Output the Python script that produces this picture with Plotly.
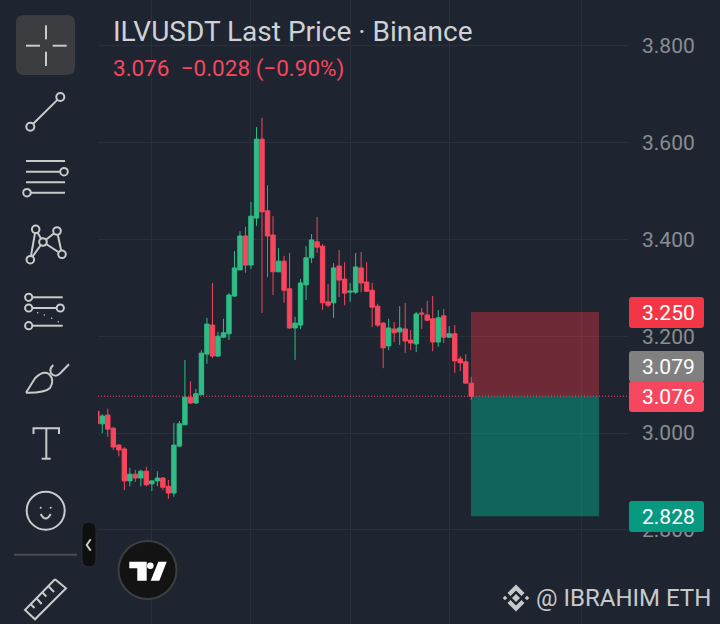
import plotly.graph_objects as go

W = 720
H = 624

# candles
opens = [3.045, 3.019, 3.037, 3.010, 2.975, 2.967, 2.901, 2.915, 2.907, 2.921,
         2.895, 2.901, 2.907, 2.890, 2.876, 2.973, 3.017, 3.074, 3.062, 3.079,
         3.163, 3.223, 3.159, 3.198, 3.205, 3.283, 3.337, 3.407, 3.347, 3.444,
         3.607, 3.459, 3.409, 3.333, 3.355, 3.298, 3.217, 3.223, 3.306, 3.362,
         3.395, 3.386, 3.271, 3.269, 3.345, 3.318, 3.291, 3.291, 3.341, 3.312,
         3.295, 3.262, 3.227, 3.180, 3.215, 3.209, 3.215, 3.192, 3.184, 3.248,
         3.244, 3.236, 3.188, 3.242, 3.198, 3.205, 3.153, 3.147, 3.103]
highs = [3.047, 3.039, 3.050, 3.012, 2.977, 2.971, 2.928, 2.924, 2.924, 2.930,
         2.903, 2.921, 2.909, 2.903, 3.021, 3.025, 3.151, 3.107, 3.091, 3.171,
         3.238, 3.310, 3.209, 3.236, 3.289, 3.376, 3.417, 3.426, 3.477, 3.632,
         3.651, 3.512, 3.448, 3.382, 3.366, 3.372, 3.240, 3.318, 3.386, 3.411,
         3.446, 3.390, 3.308, 3.351, 3.378, 3.353, 3.310, 3.372, 3.374, 3.353,
         3.310, 3.267, 3.229, 3.236, 3.229, 3.262, 3.269, 3.213, 3.250, 3.258,
         3.273, 3.283, 3.254, 3.256, 3.221, 3.223, 3.159, 3.163, 3.116]
lows = [3.017, 3.000, 2.992, 2.965, 2.952, 2.882, 2.890, 2.899, 2.890, 2.890,
        2.880, 2.890, 2.882, 2.864, 2.868, 2.971, 3.017, 3.060, 3.060, 3.079,
        3.143, 3.155, 3.157, 3.196, 3.192, 3.281, 3.337, 3.331, 3.339, 3.428,
        3.248, 3.322, 3.285, 3.333, 3.269, 3.215, 3.151, 3.215, 3.275, 3.351,
        3.372, 3.254, 3.260, 3.238, 3.281, 3.264, 3.271, 3.287, 3.291, 3.291,
        3.219, 3.219, 3.134, 3.171, 3.188, 3.182, 3.165, 3.171, 3.167, 3.215,
        3.231, 3.169, 3.178, 3.186, 3.196, 3.124, 3.128, 3.103, 3.068]
closes = [3.019, 3.035, 3.008, 2.971, 2.965, 2.901, 2.915, 2.907, 2.921, 2.893,
          2.901, 2.907, 2.888, 2.876, 2.975, 3.019, 3.074, 3.062, 3.081, 3.165,
          3.225, 3.159, 3.200, 3.207, 3.285, 3.341, 3.407, 3.347, 3.448, 3.607,
          3.457, 3.407, 3.333, 3.355, 3.295, 3.217, 3.227, 3.310, 3.362, 3.399,
          3.384, 3.269, 3.264, 3.341, 3.316, 3.289, 3.293, 3.343, 3.310, 3.293,
          3.260, 3.223, 3.176, 3.217, 3.207, 3.217, 3.190, 3.186, 3.246, 3.246,
          3.233, 3.188, 3.238, 3.198, 3.205, 3.149, 3.145, 3.103, 3.076]
bars = list(range(len(opens)))

price_ticks = [3.8, 3.6, 3.4, 3.2, 3.0, 2.8]
price_labels = ["3.800", "3.600", "3.400", "3.200", "3.000", "2.800"]
time_grid = [10, 28, 46, 64, 88]

stop_price = 3.25
last_price = 3.076
target_price = 2.828
tool_start = 67.95
tool_end = 91.2

BG = "#1e2530"
GRID = "#2a303b"
UP = "#2ebd85"
DOWN = "#f6465d"
ICON = "#c9cacc"


def fx(x):
    return x / W


def fy(y):
    return 1 - y / H


def path(*pts, close=False):
    s = "M" + " L".join(f"{fx(x):.5f},{fy(y):.5f}" for x, y in pts)
    return s + (" Z" if close else "")


def round_rect(x0, y0, x1, y1, r):
    return (f"M{fx(x0 + r):.5f},{fy(y0):.5f} L{fx(x1 - r):.5f},{fy(y0):.5f} "
            f"Q{fx(x1):.5f},{fy(y0):.5f} {fx(x1):.5f},{fy(y0 + r):.5f} "
            f"L{fx(x1):.5f},{fy(y1 - r):.5f} Q{fx(x1):.5f},{fy(y1):.5f} {fx(x1 - r):.5f},{fy(y1):.5f} "
            f"L{fx(x0 + r):.5f},{fy(y1):.5f} Q{fx(x0):.5f},{fy(y1):.5f} {fx(x0):.5f},{fy(y1 - r):.5f} "
            f"L{fx(x0):.5f},{fy(y0 + r):.5f} Q{fx(x0):.5f},{fy(y0):.5f} {fx(x0 + r):.5f},{fy(y0):.5f} Z")


shapes = []


def add_path(d, color=ICON, width=2, fill=None):
    shapes.append(dict(type="path", path=d, xref="paper", yref="paper",
                       line=dict(color=color, width=width),
                       fillcolor=fill if fill else "rgba(0,0,0,0)", layer="above"))


def add_circle(x, y, r, color=ICON, width=2, fill=None):
    shapes.append(dict(type="circle", xref="paper", yref="paper",
                       x0=fx(x - r), x1=fx(x + r), y0=fy(y + r), y1=fy(y - r),
                       line=dict(color=color, width=width),
                       fillcolor=fill if fill else "rgba(0,0,0,0)", layer="above"))


fig = go.Figure(go.Candlestick(
    x=bars, open=opens, high=highs, low=lows, close=closes,
    increasing=dict(line=dict(color=UP, width=1), fillcolor=UP),
    decreasing=dict(line=dict(color=DOWN, width=1), fillcolor=DOWN),
    whiskerwidth=0, hoverinfo="skip",
))

# long/short position tool
shapes.append(dict(type="rect", xref="x", yref="y", x0=tool_start, x1=tool_end,
                   y0=last_price, y1=stop_price, line=dict(width=0),
                   fillcolor="rgba(242,54,69,0.38)", layer="between"))
shapes.append(dict(type="rect", xref="x", yref="y", x0=tool_start, x1=tool_end,
                   y0=target_price, y1=last_price, line=dict(width=0),
                   fillcolor="rgba(8,153,129,0.55)", layer="between"))
# last price line
shapes.append(dict(type="line", xref="paper", yref="y", x0=fx(98), x1=fx(630),
                   y0=last_price, y1=last_price, layer="above",
                   line=dict(color=DOWN, width=1, dash="1px,2px")))

# price tags on the scale
tags = [("3.250", 297, 328, "#f23645"), ("3.079", 351, 382, "#808080"),
        ("3.076", 381, 412, "#f7475f"), ("2.828", 501, 532, "#089981")]
annotations = []
for text, top, bottom, color in tags:
    add_path(round_rect(629, top, 704, bottom, 3), color=color, width=0, fill=color)
    annotations.append(dict(text=text, x=fx(668), y=fy((top + bottom) / 2), xref="paper", yref="paper",
                            showarrow=False, xanchor="center", yanchor="middle",
                            font=dict(family="Roboto", size=21, color="#ffffff")))

# left toolbar
add_path(round_rect(16, 15, 75, 75, 8), color="#3c3d40", width=0, fill="#3c3d40")
add_path(path((26, 45.7), (40, 45.7)))
add_path(path((52.7, 45.7), (66.7, 45.7)))
add_path(path((46, 25.3), (46, 39.3)))
add_path(path((46, 51.7), (46, 66)))

add_path(path((33.2, 123.8), (57.4, 99.9)))
add_circle(60.3, 97, 4)
add_circle(30.3, 126.7, 4)

add_path(path((26, 161), (65, 161)))
add_path(path((26, 171.7), (60, 171.7)))
add_circle(64, 171.7, 3.8)
add_path(path((26, 182.3), (65, 182.3)))
add_path(path((31, 192.7), (65, 192.7)))
add_circle(27, 192.7, 3.8)

add_path(path((30.3, 259.7), (35.7, 229.3), (43, 242), (57, 231), (62, 254.3), (43, 242), (30.3, 259.7)))
for cx, cy in [(35.7, 229.3), (57, 231), (43, 242), (62, 254.3), (30.3, 259.7)]:
    add_circle(cx, cy, 3.8, fill=BG)

add_path(path((32, 297.3), (62.7, 297.3)))
add_circle(28.7, 297.3, 3.6)
add_path(path((32, 308), (57, 308)))
add_circle(28.7, 308, 3.6)
add_circle(60.3, 308, 3.6)
for cx, cy in [(37.7, 312.7), (44.3, 315), (51.7, 318.3), (58.3, 321.7)]:
    add_circle(cx, cy, 0.8, fill=ICON, width=0)
add_path(path((32, 325.7), (62.7, 325.7)))
add_circle(28.7, 325.7, 3.6)

brush = (f"M{fx(26):.5f},{fy(392.7):.5f} L{fx(35):.5f},{fy(378.3):.5f} "
         f"Q{fx(43):.5f},{fy(370):.5f} {fx(49):.5f},{fy(374):.5f} "
         f"Q{fx(55):.5f},{fy(380):.5f} {fx(50):.5f},{fy(388):.5f} "
         f"Q{fx(45):.5f},{fy(393):.5f} {fx(26):.5f},{fy(392.7):.5f}")
add_path(brush)
hook = (f"M{fx(69):.5f},{fy(364.3):.5f} L{fx(60):.5f},{fy(373.5):.5f} "
        f"Q{fx(55):.5f},{fy(378):.5f} {fx(51):.5f},{fy(373):.5f} "
        f"Q{fx(49):.5f},{fy(369):.5f} {fx(53.3):.5f},{fy(365):.5f}")
add_path(hook)

add_path(path((33.5, 434), (33.5, 428.3), (59, 428.3), (59, 434)))
add_path(path((46.3, 428.3), (46.3, 458.7)))
add_path(path((41.7, 458.7), (50.7, 458.7)))

add_circle(45.7, 510.7, 19)
add_circle(40.7, 507.7, 1, fill=ICON, width=0)
add_circle(50.7, 507.7, 1, fill=ICON, width=0)
add_path(f"M{fx(40.7):.5f},{fy(514):.5f} Q{fx(45.7):.5f},{fy(523):.5f} {fx(50.7):.5f},{fy(514):.5f}")

add_path(path((14, 554.7), (77, 554.7)), color="#4a4c50", width=2)

add_path(path((55, 579.3), (66, 588.3), (35, 619.3), (25, 610), (55, 579.3)))
for a, b in [((30.7, 604.3), (34.5, 608)), ((36.7, 598.5), (41.7, 604)), ((42.5, 592.5), (46.3, 596.5)),
             ((48.7, 586.5), (54, 592))]:
    add_path(path(a, b))

# collapse button
add_path(round_rect(82, 522, 96, 567, 7), color="#2b2d31", width=1, fill="#0e0f11")
add_path(path((90.7, 539.3), (86.7, 545), (90.7, 550.7)), color="#c9cacc", width=2)

# tradingview badge
add_circle(147.5, 570, 29, color="#3c3e42", width=2, fill="#131313")
add_path(path((129.3, 561.7), (146.7, 561.7), (146.7, 580.7), (137.3, 580.7), (137.3, 568.3), (129.3, 568.3), close=True),
         color="#ffffff", width=0, fill="#ffffff")
add_circle(150.3, 565.7, 3.3, color="#ffffff", width=0, fill="#ffffff")
add_path(path((158.3, 561.7), (166.7, 561.7), (159.3, 580.7), (150.7, 580.7), close=True),
         color="#ffffff", width=0, fill="#ffffff")

# binance mark
MARK = "#c8c9cb"
add_path(path((516, 594), (520, 598), (516, 602), (512, 598), close=True), color=MARK, width=0, fill=MARK)
add_path(path((505, 595.7), (507.3, 598), (505, 600.3), (502.7, 598), close=True), color=MARK, width=0, fill=MARK)
add_path(path((527, 595.7), (529.3, 598), (527, 600.3), (524.7, 598), close=True), color=MARK, width=0, fill=MARK)
add_path(path((516, 584.5), (524.5, 593), (521.5, 596), (516, 590.5), (510.5, 596), (507.5, 593), close=True), color=MARK, width=0, fill=MARK)
add_path(path((516, 611.5), (524.5, 603), (521.5, 600), (516, 605.5), (510.5, 600), (507.5, 603), close=True), color=MARK, width=0, fill=MARK)

annotations += [
    dict(text="ILVUSDT Last Price · Binance", x=fx(111), y=fy(31), xref="paper", yref="paper",
         showarrow=False, xanchor="left", yanchor="middle",
         font=dict(family="Roboto", size=28, color="#cfd1d4")),
    dict(text="3.076&nbsp;&nbsp;−0.028 (−0.90%)", x=fx(111), y=fy(68), xref="paper", yref="paper",
         showarrow=False, xanchor="left", yanchor="middle",
         font=dict(family="Roboto", size=22.5, color=DOWN)),
    dict(text="@ IBRAHIM ETH", x=fx(533.5), y=fy(598), xref="paper", yref="paper",
         showarrow=False, xanchor="left", yanchor="middle",
         font=dict(family="Roboto", size=24, color="#c8c9cb")),
]

fig.update_layout(
    width=W, height=H, autosize=False,
    margin=dict(l=0, r=0, t=0, b=0),
    paper_bgcolor=BG, plot_bgcolor=BG,
    showlegend=False, boxgap=0.2, boxgroupgap=0,
    shapes=shapes, annotations=annotations,
    xaxis=dict(domain=[fx(98), fx(628)], range=[0.218, 96.46], rangeslider=dict(visible=False),
               tickvals=time_grid, showticklabels=False, ticks="", showgrid=True,
               gridcolor=GRID, gridwidth=1, zeroline=False, showline=False),
    yaxis=dict(domain=[0, 1], range=[2.6054, 3.8946], side="right", tickvals=price_ticks,
               ticktext=price_labels, ticks="", ticklabelstandoff=13, showgrid=True,
               gridcolor=GRID, gridwidth=1, zeroline=False, showline=False,
               tickfont=dict(family="Roboto", size=21, color="#8a8d93")),
)

# page margin would push the figure 8px in
fig.write_html("out.html", config=dict(displayModeBar=False),
               post_script="document.body.style.margin='0';document.body.style.overflow='hidden';")
